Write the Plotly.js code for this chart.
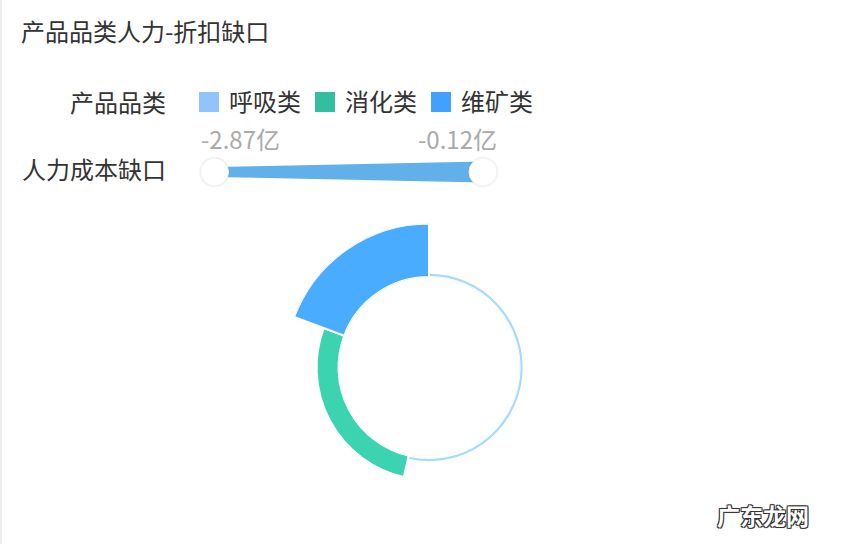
<!DOCTYPE html>
<html>
<head>
<meta charset="utf-8">
<script src="https://cdn.plot.ly/plotly-3.0.1.min.js"></script>
<style>
  html, body { margin: 0; padding: 0; background: #ffffff; }
  #chart { width: 850px; height: 544px; }
</style>
</head>
<body>
<div id="chart"></div>
<script>
// ---- data ----
const chartTitle = '产品品类人力-折扣缺口';
const legendTitle = '产品品类';
const mapTitle = '人力成本缺口';
const categories = ['呼吸类', '消化类', '维矿类'];
const gapValues = [-2.87, -1.88, -0.12];      // 人力成本缺口 (亿) -> slice radius
const angleShare = [53.6, 27.1, 19.3];         // share of the circle (%) -> slice angle
const unit = '亿';

// ---- styles ----
const FONT = '"Noto Sans CJK SC", "Noto Sans", sans-serif';
const sliceColors = ['#a6dbfb', '#3cd3b1', '#4aacff'];
const legendColors = ['#8fc5fc', '#33bf9f', '#42a0ff'];
const W = 850, H = 544;
const px = x => x / W;
const py = y => 1 - y / H;

// ---- geometry of the slices from the data ----
const total = angleShare.reduce((a, b) => a + b, 0);
const widths = angleShare.map(v => v / total * 360);
const centers = [];
let acc = 0;
widths.forEach(w => { centers.push(acc + w / 2); acc += w; });

const rBase = -3.1;                       // radial axis start (hole edge)
const rTop = Math.max(...gapValues);
const rMinData = Math.min(...gapValues);

const trace = {
  type: 'barpolar',
  r: gapValues.map(v => v - rBase),
  base: rBase,
  theta: centers,
  width: widths,
  text: categories,
  marker: { color: sliceColors, line: { color: '#ffffff', width: 2 } },
  hovertemplate: '%{text}<extra></extra>',
  showlegend: false
};

// ---- custom legend & visual map ----
const shapes = [];
const annotations = [];

// faint left border
shapes.push({ type: 'line', xref: 'paper', yref: 'paper', x0: px(1), x1: px(1), y0: 0, y1: 1,
  line: { color: '#eceef2', width: 2 } });

annotations.push({ xref: 'paper', yref: 'paper', x: px(168), y: py(101), xanchor: 'right', yanchor: 'middle',
  text: legendTitle, showarrow: false, font: { family: FONT, size: 24, color: '#333333' } });

const swatchX = [199, 315, 431];
categories.forEach((c, i) => {
  const x0 = swatchX[i];
  shapes.push({ type: 'rect', xref: 'paper', yref: 'paper',
    x0: px(x0), x1: px(x0 + 20), y0: py(112), y1: py(92),
    fillcolor: legendColors[i], line: { width: 0 } });
  annotations.push({ xref: 'paper', yref: 'paper', x: px(x0 + 28), y: py(100), xanchor: 'left', yanchor: 'middle',
    text: c, showarrow: false, font: { family: FONT, size: 24, color: '#333333' } });
});

annotations.push({ xref: 'paper', yref: 'paper', x: px(168), y: py(168), xanchor: 'right', yanchor: 'middle',
  text: mapTitle, showarrow: false, font: { family: FONT, size: 24, color: '#333333' } });

// visual map bar (trapezoid) and handles
const hx0 = 214.5, hx1 = 483, hy = 172;
const path = 'M' + px(hx0) + ',' + py(167) + ' L' + px(hx1) + ',' + py(161.5) +
             ' L' + px(hx1) + ',' + py(182.5) + ' L' + px(hx0) + ',' + py(177) + ' Z';
shapes.push({ type: 'path', xref: 'paper', yref: 'paper', path: path,
  fillcolor: '#62b0ea', line: { width: 0 } });
[hx0, hx1].forEach(cx => {
  shapes.push({ type: 'circle', xref: 'paper', yref: 'paper',
    x0: px(cx - 15.5), x1: px(cx + 15.5), y0: py(hy + 15.5), y1: py(hy - 15.5),
    fillcolor: 'rgba(0,0,0,0.04)', line: { width: 0 } });
  shapes.push({ type: 'circle', xref: 'paper', yref: 'paper',
    x0: px(cx - 14), x1: px(cx + 14), y0: py(hy + 14), y1: py(hy - 14),
    fillcolor: '#ffffff', line: { color: '#eef0f4', width: 1 } });
});
annotations.push({ xref: 'paper', yref: 'paper', x: px(199), y: py(138), xanchor: 'left', yanchor: 'middle',
  text: rMinData.toFixed(2) + unit, showarrow: false, font: { family: FONT, size: 24, color: '#aaaaaa' } });
annotations.push({ xref: 'paper', yref: 'paper', x: px(499), y: py(138), xanchor: 'right', yanchor: 'middle',
  text: rTop.toFixed(2) + unit, showarrow: false, font: { family: FONT, size: 24, color: '#aaaaaa' } });

// watermark
annotations.push({ xref: 'paper', yref: 'paper', x: px(763), y: py(515), xanchor: 'center', yanchor: 'middle',
  text: '广东龙网', showarrow: false,
  font: { family: FONT, size: 23, color: '#ffffff', weight: 'bold',
    shadow: '-1px -1px 0 #333, 1px -1px 0 #333, -1px 1px 0 #333, 1px 1px 0 #333, 0 0 2px #333' } });

const cx = 429, cy = 367.5, R = 144;
const layout = {
  width: W, height: H,
  margin: { l: 0, r: 0, t: 0, b: 0 },
  paper_bgcolor: '#ffffff',
  showlegend: false,
  title: { text: chartTitle, x: px(21), xanchor: 'left', y: py(33), yanchor: 'middle',
    font: { family: FONT, size: 24, color: '#333333' } },
  polar: {
    domain: { x: [px(cx - R), px(cx + R)], y: [py(cy + R), py(cy - R)] },
    hole: 90.5 / R,
    bargap: 0,
    bgcolor: 'rgba(0,0,0,0)',
    angularaxis: { rotation: 90, direction: 'clockwise', visible: false },
    radialaxis: { range: [rBase, rTop], visible: false }
  },
  shapes: shapes,
  annotations: annotations
};

Plotly.newPlot('chart', [trace], layout, { displayModeBar: false, staticPlot: true });
</script>
</body>
</html>
